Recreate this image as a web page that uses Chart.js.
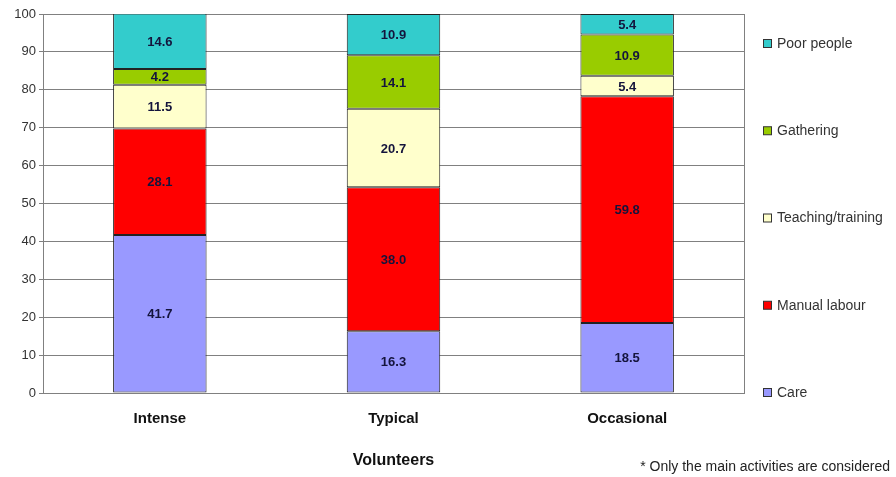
<!DOCTYPE html>
<html>
<head>
<meta charset="utf-8">
<script src="https://cdn.jsdelivr.net/npm/chart.js@4/dist/chart.umd.min.js"></script>
<style>
    html, body { margin: 0; padding: 0; background: #fff; }
    #wrap { width: 896px; height: 477px; }
</style>
</head>
<body>
<div id="wrap"><canvas id="activityChart" width="896" height="477"></canvas></div>
<script>
// ===========================
// Data
// ===========================

const categories = ['Intense', 'Typical', 'Occasional'];
const seriesNames = ['Care', 'Manual labour', 'Teaching/training', 'Gathering', 'Poor people'];
const care = [41.7, 16.3, 18.5];
const manualLabour = [28.1, 38.0, 59.8];
const teaching = [11.5, 20.7, 5.4];
const gathering = [4.2, 14.1, 10.9];
const poorPeople = [14.6, 10.9, 5.4];
const yTicks = [0, 10, 20, 30, 40, 50, 60, 70, 80, 90, 100];

const seriesValues = [care, manualLabour, teaching, gathering, poorPeople];
const seriesColors = ['#9999FF', '#FF0000', '#FFFFCC', '#99CC00', '#33CCCC'];

const FONT = 'Arial, "Liberation Sans", sans-serif';

// ===========================
// Plugins
// ===========================

// value labels in the middle of each segment
const segmentLabels = {
    id: 'segmentLabels',
    afterDatasetsDraw(chart) {
        const ctx = chart.ctx;
        ctx.save();
        ctx.font = 'bold 13px ' + FONT;
        ctx.fillStyle = '#14143c';
        ctx.textAlign = 'center';
        ctx.textBaseline = 'middle';
        chart.data.datasets.forEach((ds, i) => {
            chart.getDatasetMeta(i).data.forEach((bar, j) => {
                const top = Math.max(bar.y, chart.chartArea.top);
                ctx.fillText(ds.data[j].toFixed(1), bar.x, (top + bar.base) / 2 + 1);
            });
        });
        ctx.restore();
    }
};

// plot frame, spread legend and footnote
const decorations = {
    id: 'decorations',
    afterDraw(chart) {
        const ctx = chart.ctx;
        const area = chart.chartArea;
        ctx.save();
        ctx.strokeStyle = '#808080';
        ctx.lineWidth = 1;
        ctx.beginPath();
        ctx.moveTo(area.right + 0.5, area.top);
        ctx.lineTo(area.right + 0.5, area.bottom);
        ctx.stroke();

        const items = chart.data.datasets.slice().reverse();
        const y0 = 44, y1 = 393;
        ctx.font = '14px ' + FONT;
        ctx.textBaseline = 'middle';
        ctx.textAlign = 'left';
        items.forEach((ds, k) => {
            const y = y0 + (y1 - y0) * k / (items.length - 1);
            ctx.fillStyle = ds.backgroundColor;
            ctx.fillRect(763.5, y - 4.5, 8, 8);
            ctx.strokeStyle = '#333';
            ctx.strokeRect(763.5, y - 4.5, 8, 8);
            ctx.fillStyle = '#333';
            ctx.fillText(ds.label, 777, y);
        });

        ctx.font = '14px ' + FONT;
        ctx.textAlign = 'right';
        ctx.fillStyle = '#222';
        ctx.fillText('* Only the main activities are considered', 890, 467);
        ctx.restore();
    }
};

// ===========================
// Chart
// ===========================

new Chart(document.getElementById('activityChart'), {
    type: 'bar',
    data: {
        labels: categories,
        datasets: seriesNames.map((name, i) => ({
            label: name,
            data: seriesValues[i],
            backgroundColor: seriesColors[i],
            borderColor: '#222',
            borderWidth: 1,
            borderSkipped: false,
            barPercentage: 0.4,
            categoryPercentage: 1
        }))
    },
    options: {
        responsive: false,
        animation: false,
        layout: { padding: { left: 0, right: 152, top: 14, bottom: 0 } },
        plugins: {
            legend: { display: false },
            tooltip: { enabled: false }
        },
        scales: {
            x: {
                stacked: true,
                grid: { display: false },
                border: { color: '#808080' },
                ticks: {
                    padding: 9,
                    color: '#111',
                    font: { family: FONT, size: 15, weight: 'bold' }
                },
                title: {
                    display: true,
                    text: 'Volunteers',
                    color: '#111',
                    padding: { top: 19, bottom: 7 },
                    font: { family: FONT, size: 16, weight: 'bold' }
                },
                afterFit(scale) { scale.height = 84; }
            },
            y: {
                stacked: true,
                min: 0,
                max: 100,
                afterBuildTicks(scale) { scale.ticks = yTicks.map(v => ({ value: v })); },
                grid: { color: '#808080', tickLength: 4 },
                border: { color: '#808080' },
                ticks: {
                    padding: 3,
                    color: '#333',
                    font: { family: FONT, size: 13 }
                },
                afterFit(scale) { scale.width = 43; }
            }
        }
    },
    plugins: [segmentLabels, decorations]
});
</script>
</body>
</html>
